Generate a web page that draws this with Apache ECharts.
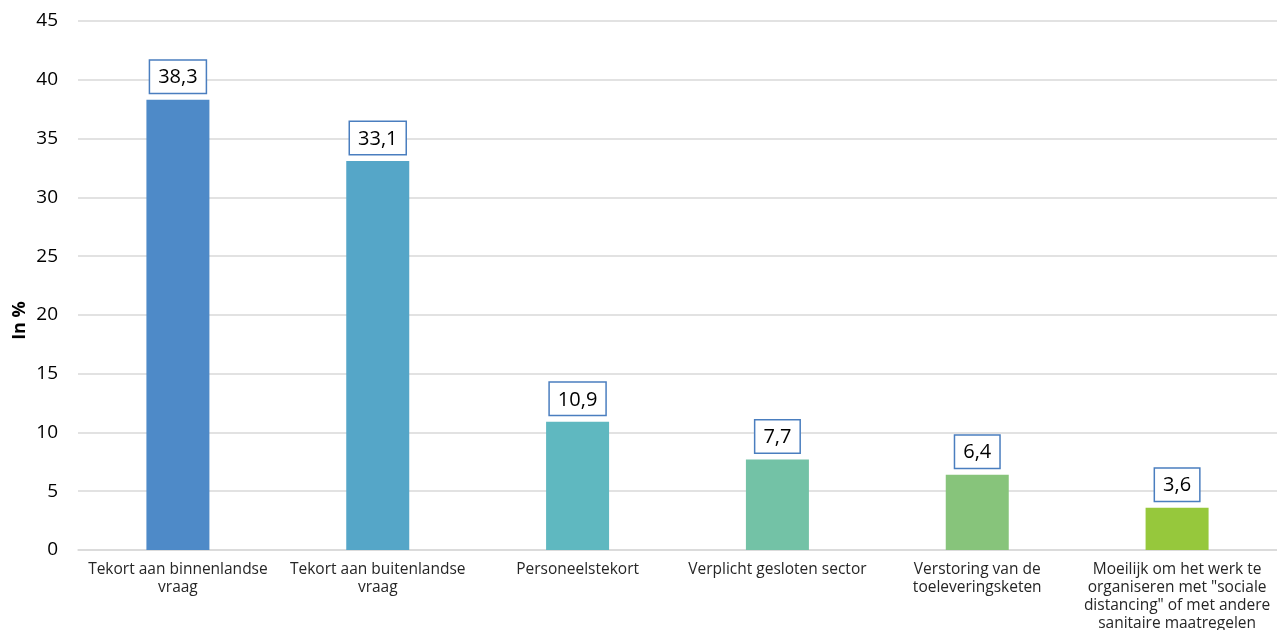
<!DOCTYPE html>
<html>
<head>
    <meta charset="utf-8">
    <title>Gevolgen</title>
    <script src="https://cdn.jsdelivr.net/npm/echarts@6/dist/echarts.min.js"></script>
    <style>
        body { margin: 0; background: #fff; }
    </style>
</head>
<body>
    <div id="main" style="width: 1277px;height:630px;"></div>
    <script type="text/javascript">
        // categorieën en waarden (in %)
        let categories = [
            'Tekort aan binnenlandse\nvraag',
            'Tekort aan buitenlandse\nvraag',
            'Personeelstekort',
            'Verplicht gesloten sector',
            'Verstoring van de\ntoeleveringsketen',
            'Moeilijk om het werk te\norganiseren met "sociale\ndistancing" of met andere\nsanitaire maatregelen'
        ]
        let values = [38.3, 33.1, 10.9, 7.7, 6.4, 3.6]
        let barColors = ['#4e8ac8', '#55a6c8', '#5fb8c0', '#73c2a6', '#87c47b', '#96c83c']
        let yTicks = [0, 5, 10, 15, 20, 25, 30, 35, 40, 45]

        let myChart = echarts.init(document.getElementById('main'));

        let font = '"Open Sans", "Noto Sans", sans-serif'

        let option = {
            animation: false,
            grid: {
                left: 78,
                right: 0,
                top: 21,
                bottom: 80,
                outerBoundsMode: 'none'
            },
            xAxis: {
                type: 'category',
                data: categories,
                axisTick: { show: false },
                axisLine: { lineStyle: { color: '#d9d9d9', width: 1.5 } },
                axisLabel: {
                    color: '#262626',
                    fontFamily: font,
                    fontSize: 15.5,
                    lineHeight: 18,
                    margin: 11,
                    interval: 0
                }
            },
            yAxis: {
                type: 'value',
                min: yTicks[0],
                max: yTicks[yTicks.length - 1],
                interval: 5,
                name: 'In %',
                nameLocation: 'middle',
                nameGap: 49,
                nameMoveOverlap: false,
                nameTextStyle: {
                    color: '#000',
                    fontFamily: font,
                    fontSize: 18,
                    fontWeight: 'bold',
                    padding: [0, 0, 0, -70]
                },
                axisLabel: {
                    color: '#000',
                    fontFamily: font,
                    fontSize: 19,
                    margin: 20
                },
                splitLine: { lineStyle: { color: '#d9d9d9', width: 1.5 } }
            },
            series: [
                {
                    type: 'bar',
                    barWidth: 63,
                    data: values.map(function (v, i) {
                        return { value: v, itemStyle: { color: barColors[i] } }
                    }),
                    label: {
                        show: true,
                        position: 'top',
                        distance: 7,
                        formatter: function (p) {
                            return String(p.value).replace('.', ',')
                        },
                        color: '#000',
                        fontFamily: font,
                        fontSize: 20,
                        backgroundColor: '#fff',
                        borderColor: '#4a7ebf',
                        borderWidth: 1.5,
                        padding: [7, 8, 5, 8]
                    }
                }
            ]
        };

        myChart.setOption(option);
    </script>
</body>
</html>
